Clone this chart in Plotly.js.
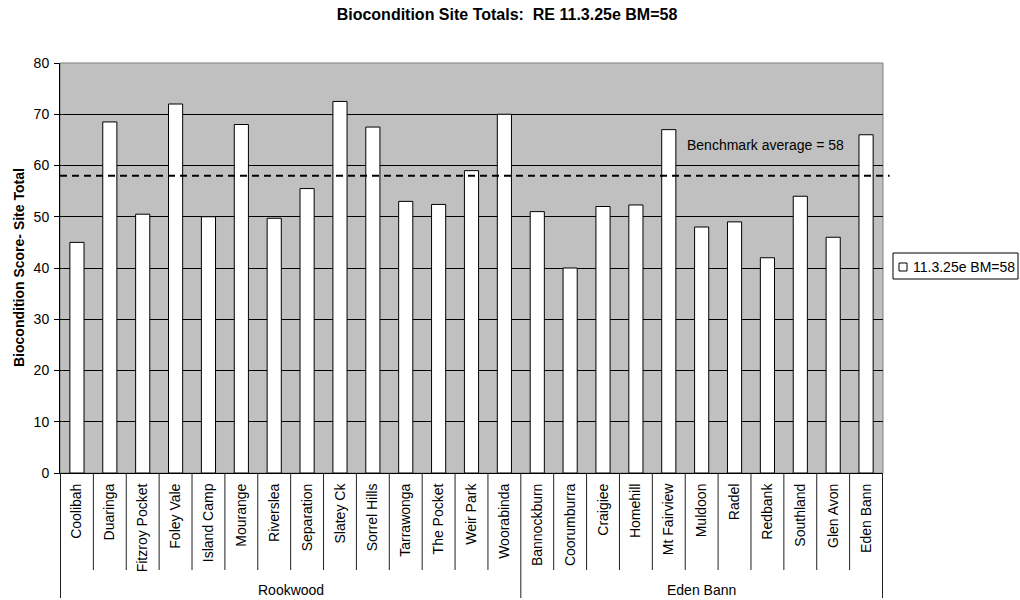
<!DOCTYPE html>
<html>
<head>
<meta charset="utf-8">
<script src="https://cdn.plot.ly/plotly-3.0.1.min.js"></script>
<style>html,body{margin:0;padding:0;background:#fff;}#chart{width:1020px;height:600px;}</style>
</head>
<body>
<div id="chart"></div>
<script>
// ---- data ----
const sites = ["Coolibah","Duaringa","Fitzroy Pocket","Foley Vale","Island Camp","Mourange","Riverslea","Separation","Slatey Ck","Sorrel Hills","Tarrawonga","The Pocket","Weir Park","Woorabinda",
               "Bannockburn","Coorumburra","Craigiee","Homehill","Mt Fairview","Muldoon","Radel","Redbank","Southland","Glen Avon","Eden Bann"];
const groups = ["Rookwood","Rookwood","Rookwood","Rookwood","Rookwood","Rookwood","Rookwood","Rookwood","Rookwood","Rookwood","Rookwood","Rookwood","Rookwood","Rookwood",
                "Eden Bann","Eden Bann","Eden Bann","Eden Bann","Eden Bann","Eden Bann","Eden Bann","Eden Bann","Eden Bann","Eden Bann","Eden Bann"];
const scores = [45, 68.5, 50.5, 72, 50, 68, 49.7, 55.5, 72.5, 67.5, 53, 52.4, 59, 70,
                51, 40, 52, 52.3, 67, 48, 49, 42, 54, 46, 66];
const seriesName = "11.3.25e BM=58";
const benchmark = 58;
const benchmarkLabel = "Benchmark average = 58";
const chartTitle = "Biocondition Site Totals:&nbsp;&nbsp;RE 11.3.25e BM=58";
const yTitle = "Biocondition Score- Site Total";

const FONT = "Arial, 'Liberation Sans', sans-serif";
const fs = 14;

// ---- shapes: separators, group dividers ----
const shapes = [];
const n = sites.length;
const sepBottom = -(570-473)/410;
const grpBottom = -(598-473)/410;
for (let i = 0; i <= n; i++) {
  const isGroupEdge = (i === 0 || i === n || groups[i] !== groups[i-1]);
  shapes.push({type:'line', xref:'x', yref:'paper', x0:i-0.5, x1:i-0.5, y0:0, y1: isGroupEdge ? grpBottom : sepBottom,
               line:{color:'#202020', width:1}});
}
// plot area border
shapes.push({type:'rect', xref:'paper', yref:'paper', x0:0, x1:1, y0:0, y1:1, line:{color:'#808080', width:1}, layer:'below'});
// benchmark line
shapes.push({type:'line', xref:'paper', yref:'y', x0:0, x1:1.008, y0:benchmark, y1:benchmark,
             line:{color:'#000', width:2, dash:'7px,5px'}});
// manual legend box & symbol
shapes.push({type:'rect', xref:'paper', yref:'paper', x0:(893-60)/823, x1:(1018-60)/823, y0:(473-279)/410, y1:(473-253)/410,
             line:{color:'#000', width:1}, fillcolor:'#fff'});
shapes.push({type:'rect', xref:'paper', yref:'paper', x0:(899-60)/823, x1:(907-60)/823, y0:(473-271)/410, y1:(473-263)/410,
             line:{color:'#000', width:1}, fillcolor:'#fff'});

// ---- annotations ----
const annotations = [];
const groupNames = [...new Set(groups)];
groupNames.forEach(g => {
  const idx = groups.map((v,i)=>v===g?i:-1).filter(i=>i>=0);
  const mid = (idx[0] + idx[idx.length-1]) / 2;
  annotations.push({xref:'x', yref:'paper', x:mid, y:-(590-473)/410, text:g, showarrow:false,
                    font:{family:FONT, size:fs, color:'#000'}, xanchor:'center', yanchor:'middle'});
});
annotations.push({xref:'paper', yref:'y', x:(765-60)/823, y:64, text:benchmarkLabel, showarrow:false,
                  font:{family:FONT, size:fs, color:'#000'}, xanchor:'center', yanchor:'middle'});
annotations.push({xref:'paper', yref:'paper', x:(19-60)/823, y:0.5, text:'<b>'+yTitle+'</b>', textangle:-90,
                  showarrow:false, font:{family:FONT, size:14, color:'#000'}, xanchor:'center', yanchor:'middle'});
annotations.push({xref:'paper', yref:'paper', x:(911-60)/823, y:(473-267)/410, text:seriesName, showarrow:false,
                  font:{family:FONT, size:fs, color:'#000'}, xanchor:'left', yanchor:'middle'});

const trace = {
  type:'bar', x:sites, y:scores, name:seriesName, width:0.43,
  marker:{color:'#ffffff', line:{color:'#000', width:1}}, showlegend:false, hoverinfo:'x+y'
};

const layout = {
  width:1020, height:600,
  margin:{l:60, r:137, t:63, b:127, pad:0},
  paper_bgcolor:'#fff', plot_bgcolor:'#C0C0C0',
  font:{family:FONT, size:fs, color:'#000'},
  title:{text:'<b>'+chartTitle+'</b>', x:507/1020, xanchor:'center', y:1-14/600, yanchor:'middle', font:{family:FONT, size:16, color:'#000'}},
  showlegend:false,
  xaxis:{type:'category', categoryorder:'array', categoryarray:sites, tickangle:-90, ticks:'', showline:true, linecolor:'#000', linewidth:1,
         tickfont:{family:FONT, size:fs, color:'#000'}, ticklabelstandoff:4, showgrid:false, zeroline:false, fixedrange:true},
  yaxis:{range:[0,80], dtick:10, tick0:0, ticks:'outside', ticklen:5, tickcolor:'#000', showline:true, linecolor:'#000', linewidth:1,
         gridcolor:'#000', gridwidth:1, zeroline:false, tickfont:{family:FONT, size:fs, color:'#000'}, ticklabelstandoff:2, fixedrange:true},
  shapes:shapes, annotations:annotations, bargap:0.57
};

Plotly.newPlot('chart', [trace], layout, {displayModeBar:false, staticPlot:true});
</script>
</body>
</html>
